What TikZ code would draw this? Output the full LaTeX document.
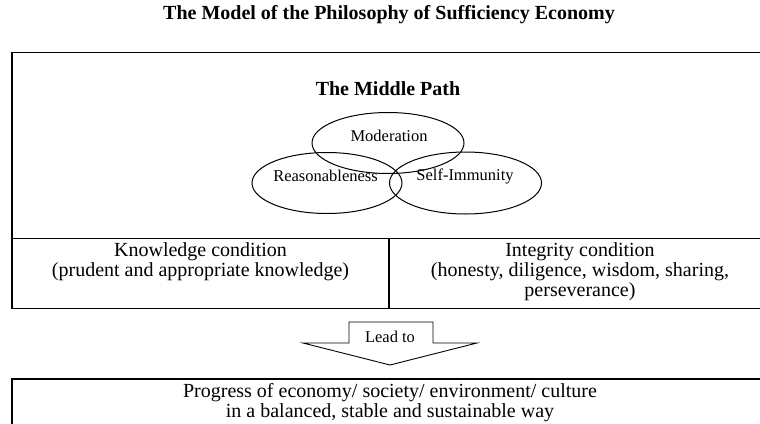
\documentclass[tikz,border=0pt]{standalone}
\usepackage{fontspec}
\setmainfont{Liberation Serif}
\usetikzlibrary{positioning, shapes.geometric}

\begin{document}
\begin{tikzpicture}[x=1pt, y=-1pt,
  frame/.style={draw, rectangle, line width=1.3pt, inner sep=0pt},
  ring/.style={ellipse, draw, line width=1pt, minimum width=152pt, minimum height=61pt, inner sep=0pt},
  bigtext/.style={font=\fontsize{20}{20}\selectfont, align=center, inner sep=0pt},
  smalltext/.style={font=\fontsize{16.5}{18}\selectfont, inner sep=0pt}]

\useasboundingbox (0,0) rectangle (760,423);
\clip (0,0) rectangle (760,423);

% title
\node[bigtext, font=\fontsize{20}{20}\selectfont\bfseries] (title) at (389,15) {The Model of the Philosophy of Sufficiency Economy};

% the middle path
\node[frame, minimum width=756pt, minimum height=186pt] (pathbox) at (390,145.7) {};
\node[bigtext, font=\fontsize{20}{20}\selectfont\bfseries] (middle) at (388,89) {The Middle Path};

\node[ring] (mod) at (388,143) {};
\node[ring, minimum width=150pt] (reas) at (327,183) {};
\node[ring, minimum height=62pt] (self) at (465.5,183) {};

\node[smalltext] (modtext) at (389,136) {Moderation};
\node[smalltext] (reastext) at (325.5,176) {Reasonableness};
\node[smalltext] (selftext) at (465,176) {Self-Immunity};

% conditions
\node[frame, minimum width=377pt, minimum height=70pt] (know) at (200.5,273.7) {};
\node[frame, minimum width=379pt, minimum height=70pt] (integ) at (578.5,273.7) {};
\node[bigtext] (knowtext) at (200.5,262) {Knowledge condition\\(prudent and appropriate knowledge)};
\node[bigtext] (integtext) at (580,272) {Integrity condition\\(honesty, diligence, wisdom, sharing,\\perseverance)};

% arrow
\node[smalltext] (lead) at (390,337) {Lead to};
\draw[line width=0.9pt, shift={(lead.center)}]
  (-41,6) -- (-41,-15) -- (43,-15) -- (43,6) -- (87,6) -- (0,28) -- (-87,6) -- cycle;

% result
\node[frame, minimum width=756pt, minimum height=61pt] (result) at (390,409.5) {};
\node[bigtext] (resulttext) at (390,403) {Progress of economy/ society/ environment/ culture\\in a balanced, stable and sustainable way};

\end{tikzpicture}
\end{document}
